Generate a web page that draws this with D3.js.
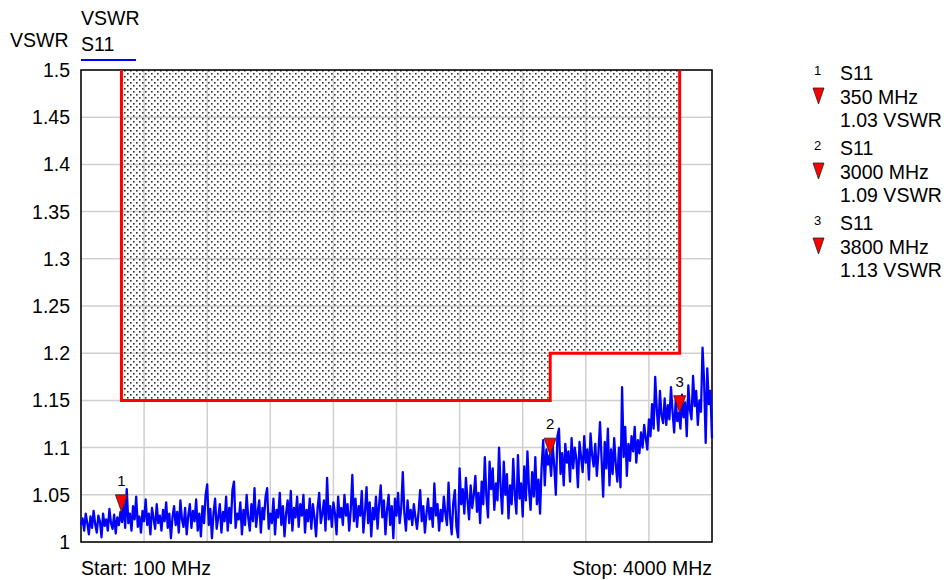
<!DOCTYPE html>
<html>
<head>
<meta charset="utf-8">
<script src="https://cdn.jsdelivr.net/npm/d3@7"></script>
<style>
  body { margin: 0; background: #fff; }
  text { font-family: "Liberation Sans", Arial, sans-serif; fill: #000; }
</style>
</head>
<body>
<div id="chart"></div>
<script>
// sweep
var startFreq = 100;
var stopFreq = 4000;
var stepFreq = 9.75;

// S11 trace, VSWR, one value per sweep point (401 points)
var vswr = [
  1.018,1.025,1.012,1.030,1.020,1.008,1.027,1.015,1.033,1.019,
  1.010,1.028,1.022,1.005,1.030,1.017,1.024,1.012,1.035,1.020,
  1.014,1.029,1.009,1.026,1.018,1.032,1.021,1.040,1.015,1.056,
  1.020,1.030,1.012,1.038,1.024,1.048,1.016,1.027,1.010,1.033,
  1.022,1.045,1.018,1.030,1.008,1.036,1.025,1.014,1.040,1.020,
  1.028,1.012,1.034,1.022,1.042,1.015,1.030,1.004,1.026,1.038,
  1.018,1.032,1.010,1.044,1.024,1.016,1.036,1.008,1.028,1.040,
  1.015,1.033,1.022,1.045,1.012,1.030,1.006,1.038,1.020,1.050,
  1.061,1.018,1.035,1.004,1.030,1.046,1.014,1.026,1.040,1.010,
  1.032,1.022,1.048,1.012,1.036,1.020,1.055,1.064,1.015,1.030,
  1.024,1.042,1.008,1.034,1.018,1.050,1.026,1.012,1.040,1.022,
  1.057,1.016,1.032,1.044,1.010,1.036,1.024,1.048,1.057,1.014,
  1.030,1.020,1.046,1.008,1.034,1.026,1.052,1.018,1.038,1.006,
  1.030,1.044,1.020,1.054,1.012,1.036,1.026,1.048,1.016,1.040,
  1.028,1.050,1.010,1.034,1.022,1.046,1.014,1.040,1.026,1.006,
  1.036,1.052,1.020,1.030,1.044,1.012,1.068,1.024,1.038,1.016,
  1.042,1.030,1.008,1.048,1.026,1.036,1.018,1.050,1.028,1.040,
  1.012,1.034,1.071,1.022,1.046,1.016,1.038,1.028,1.054,1.010,
  1.032,1.058,1.020,1.042,1.006,1.036,1.024,1.048,1.014,1.040,
  1.060,1.026,1.044,1.008,1.034,1.050,1.018,1.038,1.004,1.046,
  1.028,1.052,1.020,1.036,1.074,1.030,1.012,1.044,1.024,1.034,
  1.018,1.040,1.026,1.014,1.032,1.055,1.022,1.038,1.010,1.030,
  1.046,1.024,1.036,1.016,1.062,1.028,1.040,1.012,1.034,1.022,
  1.048,1.030,1.018,1.063,1.026,1.008,1.042,1.055,1.016,1.005,
  1.078,1.040,1.056,1.030,1.068,1.044,1.024,1.060,1.036,1.050,
  1.070,1.032,1.052,1.020,1.064,1.040,1.090,1.048,1.026,1.085,
  1.056,1.078,1.034,1.062,1.044,1.100,1.058,1.030,1.085,1.050,
  1.072,1.025,1.060,1.040,1.088,1.050,1.030,1.092,1.046,1.062,
  1.027,1.080,1.044,1.096,1.056,1.034,1.074,1.048,1.090,1.040,
  1.066,1.030,1.080,1.108,1.060,1.098,1.082,1.092,1.070,1.102,
  1.080,1.050,1.112,1.120,1.072,1.094,1.060,1.104,1.084,1.096,
  1.064,1.110,1.078,1.100,1.088,1.058,1.106,1.090,1.074,1.112,
  1.084,1.098,1.066,1.115,1.092,1.080,1.104,1.070,1.094,1.127,
  1.088,1.048,1.106,1.078,1.120,1.060,1.098,1.072,1.110,1.082,
  1.064,1.100,1.058,1.164,1.090,1.122,1.070,1.104,1.086,1.112,
  1.096,1.122,1.084,1.108,1.094,1.116,1.100,1.124,1.110,1.098,
  1.130,1.112,1.146,1.120,1.175,1.140,1.118,1.160,1.134,1.126,
  1.152,1.124,1.145,1.130,1.164,1.138,1.116,1.150,1.128,1.137,
  1.120,1.156,1.132,1.148,1.112,1.166,1.140,1.130,1.176,1.144,
  1.160,1.124,1.150,1.138,1.206,1.170,1.105,1.184,1.146,1.160,
  1.110
];

// y ticks
var yTicks = [1, 1.05, 1.1, 1.15, 1.2, 1.25, 1.3, 1.35, 1.4, 1.45, 1.5];
var yTickLabels = ["1", "1.05", "1.1", "1.15", "1.2", "1.25", "1.3", "1.35", "1.4", "1.45", "1.5"];

// limit line (upper mask)
var limitFreqs = [350, 350, 3000, 3000, 3800, 3800];
var limitValues = [1.5, 1.15, 1.15, 1.2, 1.2, 1.5];

// markers
var markerIds = ["1", "2", "3"];
var markerFreqs = [350, 3000, 3800];
var markerValues = [1.032, 1.092, 1.137];
var markerFreqLabels = ["350 MHz", "3000 MHz", "3800 MHz"];
var markerValueLabels = ["1.03 VSWR", "1.09 VSWR", "1.13 VSWR"];

var width = 949;
var height = 580;

//plot box
var plotLeft = 81, plotRight = 712, plotTop = 70, plotBottom = 542;
var fs = "19.5px";

var svg = d3.select("#chart").append("svg").attr("width", width).attr("height", height);

var x = d3.scaleLinear().domain([startFreq, stopFreq]).range([plotLeft, plotRight]);
var y = d3.scaleLinear().domain([1, 1.5]).range([plotBottom, plotTop]);

//dot pattern for the mask area
var pat = svg.append("defs").append("pattern").attr("id", "dots")
  .attr("patternUnits", "userSpaceOnUse").attr("width", 6).attr("height", 6);
pat.append("rect").attr("x", 1).attr("y", 1).attr("width", 1.6).attr("height", 1.6).attr("fill", "#333");
pat.append("rect").attr("x", 4).attr("y", 4).attr("width", 1.6).attr("height", 1.6).attr("fill", "#333");

//grid
var xGrid = d3.range(0, 11).map(function(i) { return startFreq + i * (stopFreq - startFreq) / 10; });
svg.append("g").selectAll("line").data(xGrid).enter().append("line")
  .attr("x1", function(d) { return x(d); }).attr("x2", function(d) { return x(d); })
  .attr("y1", plotTop).attr("y2", plotBottom)
  .attr("stroke", "#cfcfcf").attr("stroke-width", 1.5);
svg.append("g").selectAll("line").data(yTicks).enter().append("line")
  .attr("x1", plotLeft).attr("x2", plotRight)
  .attr("y1", function(d) { return y(d); }).attr("y2", function(d) { return y(d); })
  .attr("stroke", "#cfcfcf").attr("stroke-width", 1.5);

//mask area
var limitPts = limitFreqs.map(function(f, i) { return [x(f), y(limitValues[i])]; });
svg.append("path").attr("d", d3.line()(limitPts) + "Z").attr("fill", "url(#dots)");

//frame
svg.append("rect").attr("x", plotLeft).attr("y", plotTop)
  .attr("width", plotRight - plotLeft).attr("height", plotBottom - plotTop)
  .attr("fill", "none").attr("stroke", "#000").attr("stroke-width", 1.5);

//limit line
svg.append("path").attr("d", d3.line()(limitPts))
  .attr("fill", "none").attr("stroke", "#ff0000").attr("stroke-width", 3);

//trace
var line = d3.line()
  .x(function(d, i) { return x(startFreq + i * stepFreq); })
  .y(function(d) { return y(d); });
svg.append("path").datum(vswr).attr("d", line)
  .attr("fill", "none").attr("stroke", "#0000ff").attr("stroke-width", 2.3).attr("stroke-linejoin", "round");

//markers on trace
var tri = "M-6,-17 L6,-17 L0,0 Z";
markerFreqs.forEach(function(f, i) {
  var g = svg.append("g").attr("transform", "translate(" + x(f) + "," + y(markerValues[i]) + ")");
  g.append("path").attr("d", tri).attr("fill", "#ff0000").attr("stroke", "#222").attr("stroke-width", 0.8);
  g.append("text").attr("y", -26).attr("text-anchor", "middle").style("font-size", "15px").text(markerIds[i]);
});

//y tick labels
svg.append("g").selectAll("text").data(yTicks).enter().append("text")
  .attr("x", 70).attr("y", function(d) { return y(d); }).attr("dy", "0.36em")
  .attr("text-anchor", "end").style("font-size", fs)
  .text(function(d, i) { return yTickLabels[i]; });

//titles
svg.append("text").attr("x", 81).attr("y", 25).style("font-size", fs).text("VSWR");
svg.append("text").attr("x", 81).attr("y", 51).style("font-size", fs).text("S11");
svg.append("line").attr("x1", 81).attr("x2", 136).attr("y1", 60).attr("y2", 60)
  .attr("stroke", "#0000ff").attr("stroke-width", 2);
svg.append("text").attr("x", 10).attr("y", 47).style("font-size", fs).text("VSWR");

svg.append("text").attr("x", plotLeft).attr("y", 575).style("font-size", fs)
  .text("Start: " + startFreq + " MHz");
svg.append("text").attr("x", plotRight).attr("y", 575).attr("text-anchor", "end").style("font-size", fs)
  .text("Stop: " + stopFreq + " MHz");

//marker legend
markerIds.forEach(function(id, i) {
  var g = svg.append("g").attr("transform", "translate(0," + (i * 75) + ")");
  g.append("text").attr("x", 814).attr("y", 75).style("font-size", "13px").text(id);
  g.append("text").attr("x", 840).attr("y", 80).style("font-size", fs).text("S11");
  g.append("path").attr("d", "M813,88 L824,88 L818.5,104 Z").attr("fill", "#ff0000").attr("stroke", "#222").attr("stroke-width", 0.8);
  g.append("text").attr("x", 840).attr("y", 104).style("font-size", fs).text(markerFreqLabels[i]);
  g.append("text").attr("x", 840).attr("y", 127).style("font-size", fs).text(markerValueLabels[i]);
});
</script>
</body>
</html>
